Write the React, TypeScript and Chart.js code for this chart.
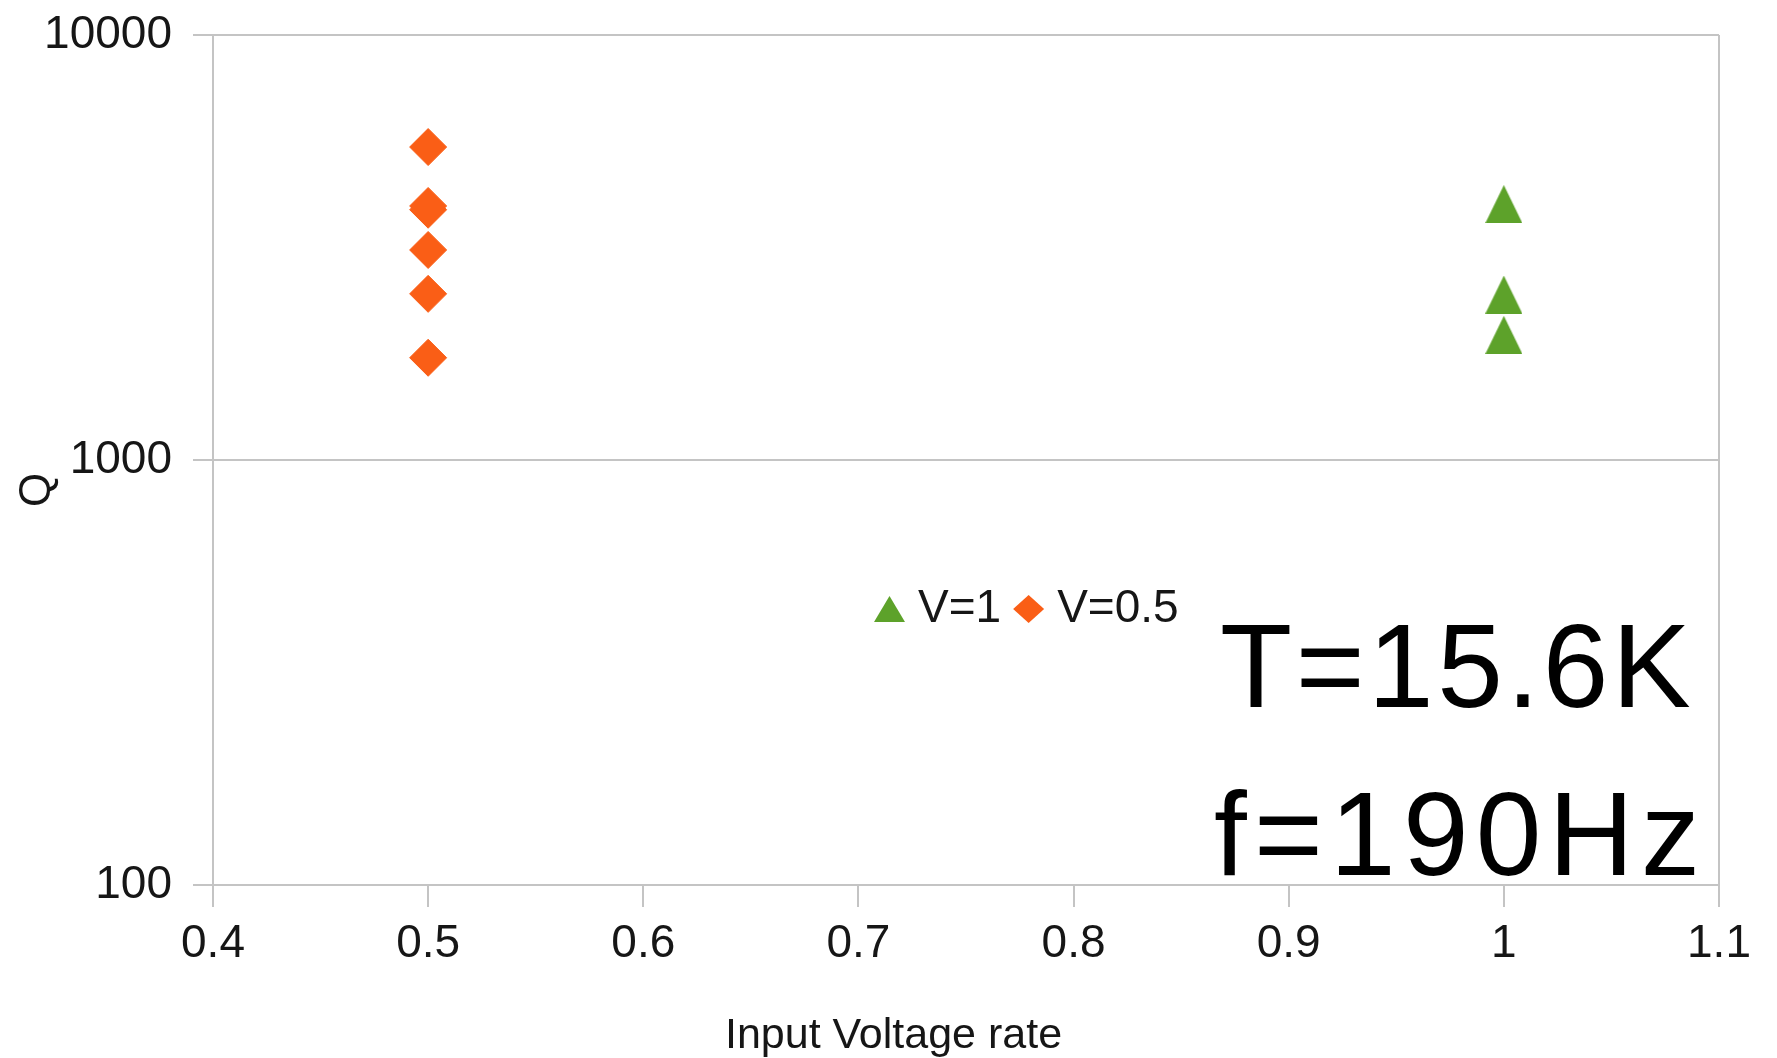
import React, { useEffect, useRef } from 'react';
import { Chart, registerables } from 'chart.js';

Chart.register(...registerables);

// ---------- data ----------
const seriesLabels = ['V=1', 'V=0.5'];
const v1X = [1.0, 1.0, 1.0];
const v1Q = [4000, 2450, 1970];
const v05X = [0.5, 0.5, 0.5, 0.5, 0.5, 0.5];
const v05Q = [5450, 3960, 3880, 3120, 2460, 1740];
const xTickValues = [0.4, 0.5, 0.6, 0.7, 0.8, 0.9, 1.0, 1.1];
const xTickLabels = ['0.4', '0.5', '0.6', '0.7', '0.8', '0.9', '1', '1.1'];
const yTickValues = [100, 1000, 10000];
const yTickLabels = ['100', '1000', '10000'];
const xTitle = 'Input Voltage rate';
const yTitle = 'Q';
const noteLines = ['T=15.6K', 'f=190Hz'];

// ---------- styles ----------
const W = 1777;
const H = 1058;
const GREEN = '#5DA22A';
const ORANGE = '#FA5E16';
const GRID = '#C4C4C4';
const TEXT = '#161616';
const SANS = '"Liberation Sans", Arial, Helvetica, sans-serif';
const NOTE_FONT = '"Liberation Sans", Arial, sans-serif';

function makeTriangle(w: number, h: number, color: string): HTMLCanvasElement {
  const c = document.createElement('canvas');
  c.width = w;
  c.height = h;
  const g = c.getContext('2d')!;
  g.fillStyle = color;
  g.beginPath();
  g.moveTo(w / 2, 0);
  g.lineTo(w, h);
  g.lineTo(0, h);
  g.closePath();
  g.fill();
  return c;
}

function drawFittedText(ctx: CanvasRenderingContext2D, text: string, left: number, right: number, baseline: number) {
  const anyCtx = ctx as any;
  if ('letterSpacing' in anyCtx) anyCtx.letterSpacing = '0px';
  const m0 = ctx.measureText(text);
  const ink0 = m0.actualBoundingBoxLeft + m0.actualBoundingBoxRight;
  const target = right - left;
  const n = Array.from(text).length;
  if ('letterSpacing' in anyCtx && n > 1) {
    const s = (target - ink0) / (n - 1);
    anyCtx.letterSpacing = s + 'px';
    const m = ctx.measureText(text);
    ctx.fillText(text, left + m.actualBoundingBoxLeft, baseline);
    anyCtx.letterSpacing = '0px';
  } else {
    const sx = target / ink0;
    ctx.save();
    ctx.translate(left, baseline);
    ctx.scale(sx, 1);
    ctx.fillText(text, m0.actualBoundingBoxLeft, 0);
    ctx.restore();
  }
}

const overlayPlugin = {
  id: 'overlayTexts',
  afterDraw(chart: any) {
    const ctx: CanvasRenderingContext2D = chart.ctx;
    const area = chart.chartArea;
    ctx.save();
    ctx.fillStyle = TEXT;

    // x axis title
    ctx.font = `43px ${SANS}`;
    ctx.textAlign = 'center';
    ctx.textBaseline = 'alphabetic';
    ctx.fillText(xTitle, chart.width / 2 + 5, chart.height - 10);

    // y axis title (rotated)
    ctx.save();
    ctx.translate(38, (area.top + area.bottom) / 2 + 30);
    ctx.rotate(-Math.PI / 2);
    ctx.font = `44px ${SANS}`;
    ctx.textAlign = 'center';
    ctx.textBaseline = 'middle';
    ctx.fillText(yTitle, 0, 0);
    ctx.restore();

    // legend (inside plot)
    ctx.font = `46px ${SANS}`;
    ctx.textAlign = 'left';
    ctx.textBaseline = 'alphabetic';
    const legBase = area.top + 587;
    let cx = area.left + 661;
    chart.data.datasets.forEach((ds: any, i: number) => {
      const color = ds.backgroundColor;
      ctx.fillStyle = color;
      ctx.beginPath();
      if (i === 0) {
        ctx.moveTo(cx + 15.5, legBase - 26);
        ctx.lineTo(cx + 31, legBase);
        ctx.lineTo(cx, legBase);
      } else {
        const cy = legBase - 13;
        ctx.moveTo(cx + 15.5, cy - 14);
        ctx.lineTo(cx + 31, cy);
        ctx.lineTo(cx + 15.5, cy + 14);
        ctx.lineTo(cx, cy);
      }
      ctx.closePath();
      ctx.fill();
      cx += 31 + 13;
      ctx.fillStyle = TEXT;
      ctx.fillText(ds.label, cx, legBase);
      cx += ctx.measureText(ds.label).width + 12;
    });

    // annotation
    ctx.fillStyle = '#000000';
    ctx.font = `118px ${NOTE_FONT}`;
    ctx.textAlign = 'left';
    ctx.textBaseline = 'alphabetic';
    drawFittedText(ctx, noteLines[0], 1222, 1690, 707);
    drawFittedText(ctx, noteLines[1], 1215, 1695, 875);

    ctx.restore();
  },
};

export default function App() {
  const ref = useRef<HTMLCanvasElement | null>(null);

  useEffect(() => {
    document.body.style.margin = '0';
    const canvas = ref.current;
    if (!canvas) return;
    const tri = makeTriangle(37, 38, GREEN);

    const chart = new Chart(canvas, {
      type: 'scatter',
      data: {
        datasets: [
          {
            label: seriesLabels[0],
            data: v1X.map((x, i) => ({ x, y: v1Q[i] })),
            backgroundColor: GREEN,
            borderColor: GREEN,
            pointStyle: tri as any,
            pointRadius: 19,
            showLine: false,
          },
          {
            label: seriesLabels[1],
            data: v05X.map((x, i) => ({ x, y: v05Q[i] })),
            backgroundColor: ORANGE,
            borderColor: ORANGE,
            borderWidth: 1,
            pointStyle: 'rectRot',
            pointRadius: 18.5,
            showLine: false,
          },
        ],
      },
      options: {
        animation: false,
        responsive: false,
        devicePixelRatio: 1,
        events: [],
        layout: { padding: { top: 35, right: 58, left: 0, bottom: 0 } },
        plugins: {
          legend: { display: false },
          tooltip: { enabled: false },
          title: { display: false },
        },
        scales: {
          x: {
            type: 'linear',
            position: 'bottom',
            min: 0.4,
            max: 1.1,
            afterBuildTicks: (s: any) => {
              s.ticks = xTickValues.map((v) => ({ value: v }));
            },
            afterFit: (s: any) => {
              s.height = H - 885;
              s.paddingLeft = 0;
              s.paddingRight = 0;
              s.paddingTop = 0;
              s.paddingBottom = 0;
            },
            ticks: {
              color: TEXT,
              font: { family: SANS, size: 46 },
              padding: 10,
              maxRotation: 0,
              autoSkip: false,
              callback: (_v: any, i: number) => xTickLabels[i],
            },
            grid: {
              color: (c: any) => (c.index === xTickValues.length - 1 ? GRID : 'rgba(0,0,0,0)'),
              tickColor: GRID,
              lineWidth: 2,
              tickLength: 22,
              drawTicks: true,
            },
            border: { display: true, color: GRID, width: 2 },
            title: { display: false },
          },
          y: {
            type: 'logarithmic',
            position: 'left',
            min: 100,
            max: 10000,
            afterBuildTicks: (s: any) => {
              s.ticks = yTickValues.map((v) => ({ value: v }));
            },
            afterFit: (s: any) => {
              s.width = 213;
              s.paddingLeft = 0;
              s.paddingRight = 0;
              s.paddingTop = 0;
              s.paddingBottom = 0;
            },
            ticks: {
              color: TEXT,
              font: { family: SANS, size: 46 },
              padding: 21,
              autoSkip: false,
              callback: (v: any) => {
                const k = yTickValues.indexOf(Number(v));
                return k >= 0 ? yTickLabels[k] : '';
              },
            },
            grid: {
              color: GRID,
              tickColor: GRID,
              lineWidth: 2,
              tickLength: 20,
              drawTicks: true,
            },
            border: { display: true, color: GRID, width: 2 },
            title: { display: false },
          },
        },
      } as any,
      plugins: [overlayPlugin],
    });

    return () => {
      chart.destroy();
    };
  }, []);

  return (
    <div style={{ width: W, height: H, position: 'relative', background: '#ffffff' }}>
      <canvas ref={ref} width={W} height={H} style={{ display: 'block', width: W, height: H }} />
    </div>
  );
}
